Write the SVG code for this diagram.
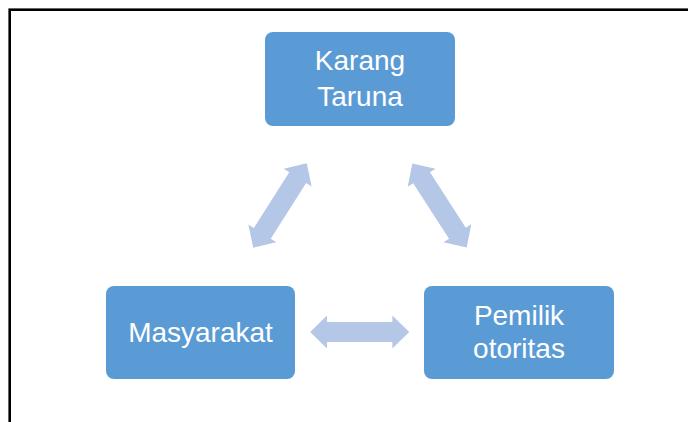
<svg xmlns="http://www.w3.org/2000/svg" xmlns:xlink="http://www.w3.org/1999/xlink" width="688" height="422" viewBox="0 0 688 422">
  <style>
    .box { fill: #5B9BD5; }
    .lbl { font-family: "Liberation Sans", Arial, sans-serif; font-size: 28px; fill: #FFFFFF; text-anchor: middle; }
    .conn { fill: #B4C7E7; }
  </style>
  <defs>
    <path id="dblArrow" d="M -50 0 L -33 -16.5 L -33 -10 L 33 -10 L 33 -16.5 L 50 0 L 33 16.5 L 33 10 L -33 10 L -33 16.5 Z"/>
  </defs>
  <rect x="0" y="0" width="688" height="422" fill="#FFFFFF"/>
  <rect x="9.7" y="9.7" width="700" height="430" fill="none" stroke="#000000" stroke-width="2.6"/>

  <g id="connectors">
    <use xlink:href="#dblArrow" class="conn" transform="translate(280,205.5) rotate(-57.6)"/>
    <use xlink:href="#dblArrow" class="conn" transform="translate(439.5,205.5) rotate(57.1)"/>
    <use xlink:href="#dblArrow" class="conn" transform="translate(359.7,332) scale(0.99,1)"/>
  </g>

  <g id="node-karang-taruna">
    <rect class="box" x="265" y="32" width="190" height="94" rx="8" ry="8"/>
    <text class="lbl" x="360" y="70">Karang</text>
    <text class="lbl" x="360" y="106">Taruna</text>
  </g>

  <g id="node-masyarakat">
    <rect class="box" x="106" y="286" width="189" height="93" rx="8" ry="8"/>
    <text class="lbl" x="200.5" y="342">Masyarakat</text>
  </g>

  <g id="node-pemilik-otoritas">
    <rect class="box" x="424" y="286" width="190" height="93" rx="8" ry="8"/>
    <text class="lbl" x="519" y="325">Pemilik</text>
    <text class="lbl" x="519" y="358">otoritas</text>
  </g>
</svg>
